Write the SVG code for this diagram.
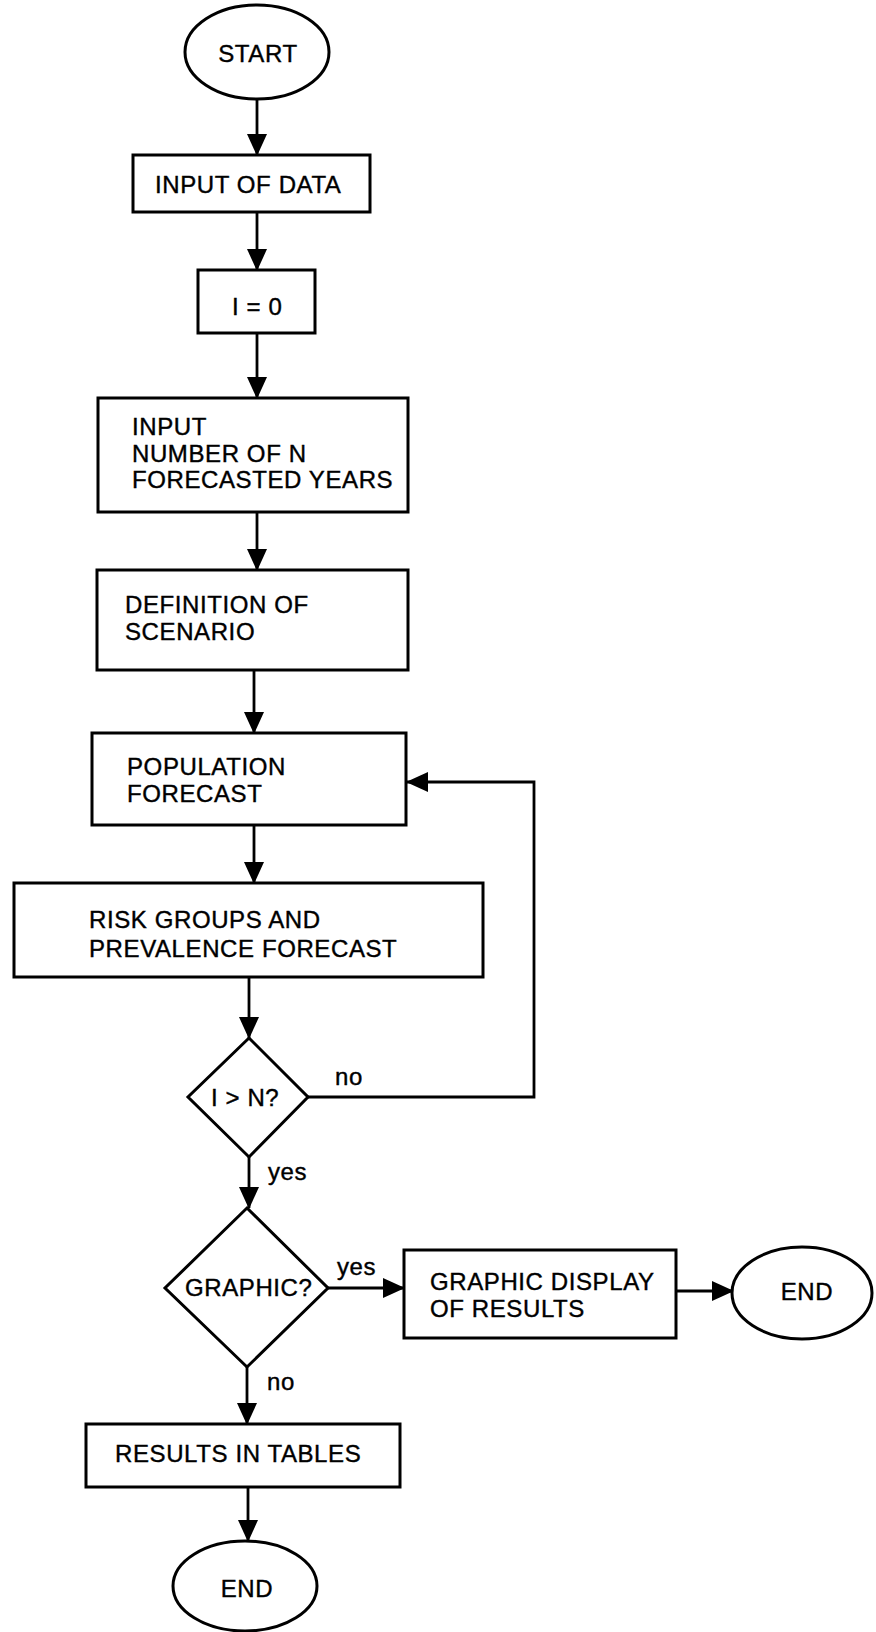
<svg xmlns="http://www.w3.org/2000/svg" width="876" height="1632" viewBox="0 0 876 1632">
<style>
.s{fill:#fff;stroke:#000;stroke-width:3}
.t{font-family:"Liberation Sans",Arial,sans-serif;font-size:24px;letter-spacing:0.6px;fill:#000;stroke:#000;stroke-width:0.4}
.c{stroke:#000;stroke-width:2.8;fill:none}
</style>
<defs>
<marker id="ah" markerUnits="userSpaceOnUse" markerWidth="22" markerHeight="22" viewBox="0 0 22 22" refX="21" refY="11" orient="auto">
<path d="M0,1 L22,11 L0,21 Z" fill="#000"/>
</marker>
</defs>
<rect width="876" height="1632" fill="#fff"/>
<g id="connectors">
<line class="c" x1="257" y1="99" x2="257" y2="155" marker-end="url(#ah)"/>
<line class="c" x1="257" y1="212" x2="257" y2="270" marker-end="url(#ah)"/>
<line class="c" x1="257" y1="333" x2="257" y2="398" marker-end="url(#ah)"/>
<line class="c" x1="257" y1="512" x2="257" y2="570" marker-end="url(#ah)"/>
<line class="c" x1="254" y1="670" x2="254" y2="733" marker-end="url(#ah)"/>
<line class="c" x1="254" y1="825" x2="254" y2="883" marker-end="url(#ah)"/>
<line class="c" x1="249" y1="977" x2="249" y2="1038" marker-end="url(#ah)"/>
<polyline class="c" points="308,1097 534,1097 534,782 407,782" marker-end="url(#ah)"/>
<line class="c" x1="249" y1="1157" x2="249" y2="1208" marker-end="url(#ah)"/>
<line class="c" x1="328" y1="1288" x2="404" y2="1288" marker-end="url(#ah)"/>
<line class="c" x1="676" y1="1291" x2="733" y2="1291" marker-end="url(#ah)"/>
<line class="c" x1="247" y1="1367" x2="247" y2="1424" marker-end="url(#ah)"/>
<line class="c" x1="248" y1="1487" x2="248" y2="1541" marker-end="url(#ah)"/>
</g>
<g id="start"><ellipse class="s" cx="257" cy="52" rx="72" ry="47"/><text class="t" x="258" y="62" text-anchor="middle">START</text></g>
<g id="input-data"><rect class="s" x="133" y="155" width="237" height="57"/><text class="t" x="155" y="193">INPUT OF DATA</text></g>
<g id="i-zero"><rect class="s" x="198" y="270" width="117" height="63"/><text class="t" x="232" y="315">I = 0</text></g>
<g id="input-n"><rect class="s" x="98" y="398" width="310" height="114"/><text class="t" x="132" y="435">INPUT</text><text class="t" x="132" y="462">NUMBER OF N</text><text class="t" x="132" y="488">FORECASTED YEARS</text></g>
<g id="scenario"><rect class="s" x="97" y="570" width="311" height="100"/><text class="t" x="125" y="613">DEFINITION OF</text><text class="t" x="125" y="640">SCENARIO</text></g>
<g id="population"><rect class="s" x="92" y="733" width="314" height="92"/><text class="t" x="127" y="775">POPULATION</text><text class="t" x="127" y="802">FORECAST</text></g>
<g id="risk"><rect class="s" x="14" y="883" width="469" height="94"/><text class="t" x="89" y="928">RISK GROUPS AND</text><text class="t" x="89" y="957">PREVALENCE FORECAST</text></g>
<g id="decision-n"><polygon class="s" points="249,1038 308,1097 249,1157 188,1097"/><text class="t" x="211" y="1106">I &gt; N?</text></g>
<g id="label-no1"><text class="t" x="335" y="1085">no</text></g>
<g id="label-yes1"><text class="t" x="268" y="1180">yes</text></g>
<g id="decision-graphic"><polygon class="s" points="247,1208 328,1288 247,1367 165,1288"/><text class="t" x="185" y="1296">GRAPHIC?</text></g>
<g id="label-yes2"><text class="t" x="337" y="1275">yes</text></g>
<g id="graphic-display"><rect class="s" x="404" y="1250" width="272" height="88"/><text class="t" x="430" y="1290">GRAPHIC DISPLAY</text><text class="t" x="430" y="1317">OF RESULTS</text></g>
<g id="end-right"><ellipse class="s" cx="802" cy="1293" rx="70" ry="46"/><text class="t" x="807" y="1300" text-anchor="middle">END</text></g>
<g id="label-no2"><text class="t" x="267" y="1390">no</text></g>
<g id="results-tables"><rect class="s" x="86" y="1424" width="314" height="63"/><text class="t" x="115" y="1462">RESULTS  IN TABLES</text></g>
<g id="end-bottom"><ellipse class="s" cx="245" cy="1586" rx="72" ry="45"/><text class="t" x="247" y="1597" text-anchor="middle">END</text></g>
</svg>
